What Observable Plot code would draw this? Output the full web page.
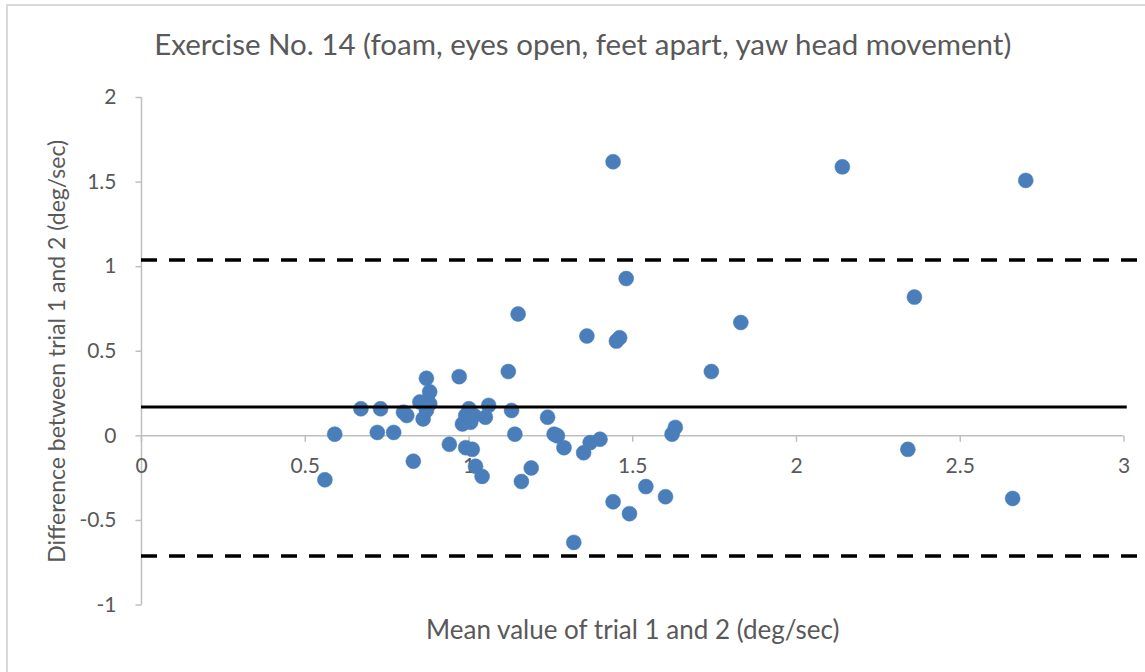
<!DOCTYPE html>
<html>
<head>
<meta charset="utf-8">
<script src="https://cdn.jsdelivr.net/npm/d3@7"></script>
<script src="https://cdn.jsdelivr.net/npm/@observablehq/plot@0.6"></script>
<style>
  html, body { margin: 0; padding: 0; background: #fff; overflow: hidden; }
  #wrap { position: relative; width: 1145px; height: 672px; overflow: hidden; }
  #border { position: absolute; left: 6px; top: 4px; width: 1300px; height: 800px; border: 2px solid #d9d9d9; box-sizing: border-box; }
  #chart { position: absolute; left: 0; top: 0; }
</style>
</head>
<body>
<div id="wrap"><div id="border"></div><div id="chart"></div></div>
<script>
// Mean of trial 1 and 2 (deg/sec)
const meanValues = [
  1.44, 2.14, 2.70, 1.48, 2.36, 1.83, 1.15, 1.36, 1.45, 1.46,
  1.74, 1.12, 0.97, 0.87, 0.88, 0.85, 0.88, 0.87, 0.67, 0.73,
  0.80, 0.81, 0.86, 1.00, 0.99, 1.015, 0.98, 1.005, 1.05, 1.06,
  1.13, 1.24, 1.26, 1.27, 0.59, 0.72, 0.77, 1.14, 0.94, 0.99,
  1.01, 0.83, 1.02, 1.04, 1.19, 1.16, 0.56, 1.29, 1.35, 1.37,
  1.40, 1.62, 1.63, 1.54, 1.60, 1.44, 1.49, 1.32, 2.34, 2.66
];
// Difference between trial 1 and 2 (deg/sec)
const diffValues = [
  1.62, 1.59, 1.51, 0.93, 0.82, 0.67, 0.72, 0.59, 0.56, 0.58,
  0.38, 0.38, 0.35, 0.34, 0.26, 0.20, 0.19, 0.15, 0.16, 0.16,
  0.14, 0.12, 0.10, 0.16, 0.12, 0.12, 0.07, 0.08, 0.11, 0.18,
  0.15, 0.11, 0.01, 0.00, 0.01, 0.02, 0.02, 0.01, -0.05, -0.07,
  -0.08, -0.15, -0.18, -0.24, -0.19, -0.27, -0.26, -0.07, -0.10, -0.04,
  -0.02, 0.01, 0.05, -0.30, -0.36, -0.39, -0.46, -0.63, -0.08, -0.37
];
const meanDiff = 0.17;
const limitsOfAgreement = [1.04, -0.71];
const meanLineExtent = [0, 3.01];
const limitLineExtent = [0, 3.1];

const xTicks = [0, 0.5, 1, 1.5, 2, 2.5, 3];
const xTickLabels = ["0", "0.5", "1", "1.5", "2", "2.5", "3"];
const yTicks = [-1, -0.5, 0, 0.5, 1, 1.5, 2];
const yTickLabels = ["-1", "-0.5", "0", "0.5", "1", "1.5", "2"];

const title = "Exercise No. 14 (foam, eyes open, feet apart, yaw head movement)";
const xLabel = "Mean value of trial 1 and 2 (deg/sec)";
const yLabel = "Difference between trial 1 and 2 (deg/sec)";

const points = meanValues.map((m, i) => ({mean: m, diff: diffValues[i]}));

const font = "Lato, 'Open Sans', sans-serif";
const textColor = "#595959";
const axisColor = "#bfbfbf";
const dotColor = "#4a7ebb";

const tickDown = {draw(ctx) { ctx.moveTo(0, 0); ctx.lineTo(0, 6); }};
const tickLeft = {draw(ctx) { ctx.moveTo(0, 0); ctx.lineTo(-6, 0); }};

const chart = Plot.plot({
  width: 1145,
  height: 672,
  marginLeft: 141,
  marginRight: 21.5,
  marginTop: 97,
  marginBottom: 67.5,
  style: {fontFamily: font, background: "transparent", overflow: "visible"},
  x: {domain: [0, 3], axis: null},
  y: {domain: [-1, 2], axis: null},
  marks: [
    // axis lines
    Plot.ruleY([0], {x1: 0, x2: 3, stroke: axisColor, strokeWidth: 1.5}),
    Plot.ruleX([0], {y1: -1, y2: 2, stroke: axisColor, strokeWidth: 1.5}),
    // tick marks
    Plot.dot(xTicks, {x: d => d, y: 0, symbol: tickDown, stroke: axisColor, strokeWidth: 1.5, fill: "none"}),
    Plot.dot(yTicks, {x: 0, y: d => d, symbol: tickLeft, stroke: axisColor, strokeWidth: 1.5, fill: "none"}),
    // tick labels
    Plot.text(xTicks, {x: d => d, y: 0, text: (d, i) => xTickLabels[i], dy: 30, fontSize: 21, fill: textColor}),
    Plot.text(yTicks, {x: 0, y: d => d, text: (d, i) => yTickLabels[i], dx: -25, textAnchor: "end", fontSize: 21, fill: textColor}),
    // axis titles and chart title
    Plot.text([yLabel], {frameAnchor: "left", textAnchor: "middle", lineAnchor: "middle", rotate: -90, dx: -84, fontSize: 23, fill: textColor}),
    Plot.text([xLabel], {frameAnchor: "bottom", lineAnchor: "middle", dy: 26, fontSize: 26, fill: textColor}),
    Plot.text([title], {frameAnchor: "top", lineAnchor: "middle", dy: -52, dx: -50, fontSize: 29.5, fill: textColor}),
    // data points
    Plot.dot(points, {x: "mean", y: "diff", r: 7.5, fill: dotColor, stroke: dotColor, strokeWidth: 0.5}),
    // mean difference and limits of agreement
    Plot.ruleY([meanDiff], {x1: meanLineExtent[0], x2: meanLineExtent[1], stroke: "#000", strokeWidth: 3}),
    Plot.ruleY(limitsOfAgreement, {x1: limitLineExtent[0], x2: limitLineExtent[1], stroke: "#000", strokeWidth: 3.5, strokeDasharray: "16,12"})
  ]
});
document.getElementById("chart").appendChild(chart);
</script>
</body>
</html>
